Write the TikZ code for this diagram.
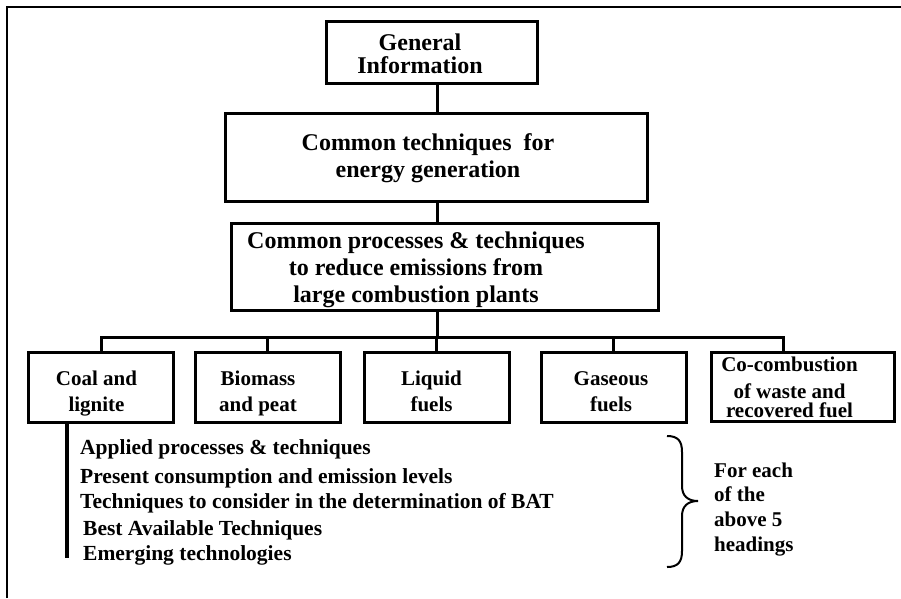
\documentclass[tikz,border=0pt]{standalone}
\usepackage{fontspec}
\setmainfont{Liberation Serif}

\begin{document}
\begin{tikzpicture}[%
    x = 1pt, y = -1pt,
    every node/.style = {inner sep=0pt},
    bigbox/.style = {draw=black, line width=3pt, font=\bfseries\fontsize{24}{27}\selectfont},
    fuelbox/.style = {draw=black, line width=3pt, minimum width=145pt, minimum height=70pt, text depth=9pt, font=\bfseries\fontsize{21}{26}\selectfont},
    listtext/.style = {anchor=base west, font=\bfseries\fontsize{21.5}{26}\selectfont},
    level 1/.style = {level distance = 105pt},
    level 2/.style = {level distance = 109.5pt},
    level 3/.style = {level distance = 120.5pt, sibling distance = 175pt,
      edge from parent path = {(\tikzparentnode.south -| spine) -- ++(0,26) -| (\tikzchildnode.north)}},
    edge from parent/.style = {draw=black, line width=3pt},
    edge from parent path = {(\tikzparentnode.south -| spine) -- (\tikzchildnode.north -| spine)}%
  ]
    \useasboundingbox (0,0) rectangle (901,598);
    \draw[line width=2pt] (7,598) -- (7,7) -- (901,7);
    \coordinate (spine) at (437,0);

    \node[bigbox, minimum width=211pt, minimum height=62pt, text depth=9pt, xshift=-5.5pt] (gi) at (437,52) {\begin{tabular}{@{}c@{\hspace{23pt}}}General\\[-4pt]Information\end{tabular}}
      child {
        node[bigbox, minimum width=422pt, minimum height=88pt, text depth=17pt, xshift=4.5pt] (ct) {\begin{tabular}{@{}c@{\hspace{16pt}}}Common techniques\ \ for\\energy generation\end{tabular}}
        child {
          node[bigbox, minimum width=427pt, minimum height=87pt, text depth=27.5pt, xshift=8.5pt] (cp) {\begin{tabular}{@{}c@{\hspace{57pt}}}Common processes \& techniques\\to reduce emissions from\\large combustion plants\end{tabular}}
          child {node[fuelbox, xshift=6.5pt] (coal) {\begin{tabular}{@{}c@{\hspace{9pt}}}Coal and\\lignite\end{tabular}}}
          child {node[fuelbox, xshift=-2pt] (biomass) {\begin{tabular}{@{}c@{\hspace{19pt}}}Biomass\\and peat\end{tabular}}}
          child {node[fuelbox, xshift=-8pt] (liquid) {\begin{tabular}{@{}c@{\hspace{10pt}}}Liquid\\fuels\end{tabular}}}
          child {node[fuelbox, xshift=-6pt] (gaseous) {\begin{tabular}{@{}c@{\hspace{5pt}}}Gaseous\\fuels\end{tabular}}}
          child[edge from parent path = {(\tikzparentnode.south -| spine) -- ++(0,26) -| ([xshift=-19.5pt]\tikzchildnode.north)}] {
            node[fuelbox, minimum width=183pt, minimum height=69pt, text depth=27pt, xshift=8pt] (cocomb) {\begin{tabular}{@{}c@{\hspace{26pt}}}Co-combustion\\[1pt]of waste and\\[-7pt]recovered fuel\end{tabular}}
          }
        }
      }
    ;

    \coordinate (listend) at (67,558);
    \draw[line width=4pt] (coal.south -| listend) -- (listend);
    \node[listtext] (applied) at (80,454) {Applied processes \& techniques};
    \node[listtext] (present) at (80,483) {Present consumption and emission levels};
    \node[listtext] (consider) at (80,508) {Techniques to consider in the determination of BAT};
    \node[listtext] (bat) at (83,535) {Best Available Techniques};
    \node[listtext] (emerging) at (83,560) {Emerging technologies};

    \draw[line width=2pt] (667,436) .. controls (678,436) and (682,441) .. (682,452) -- (682,486)
      .. controls (682,496) and (688,501) .. (698,501) .. controls (688,501) and (682,506) .. (682,516)
      -- (682,551) .. controls (682,562) and (678,567) .. (667,567);
    \node[anchor=base west, font=\bfseries\fontsize{21}{24.7}\selectfont] (foreach) at (714,477) {\begin{tabular}[t]{@{}l@{}}For each\\of the\\above 5\\headings\end{tabular}};

  \end{tikzpicture}
\end{document}
